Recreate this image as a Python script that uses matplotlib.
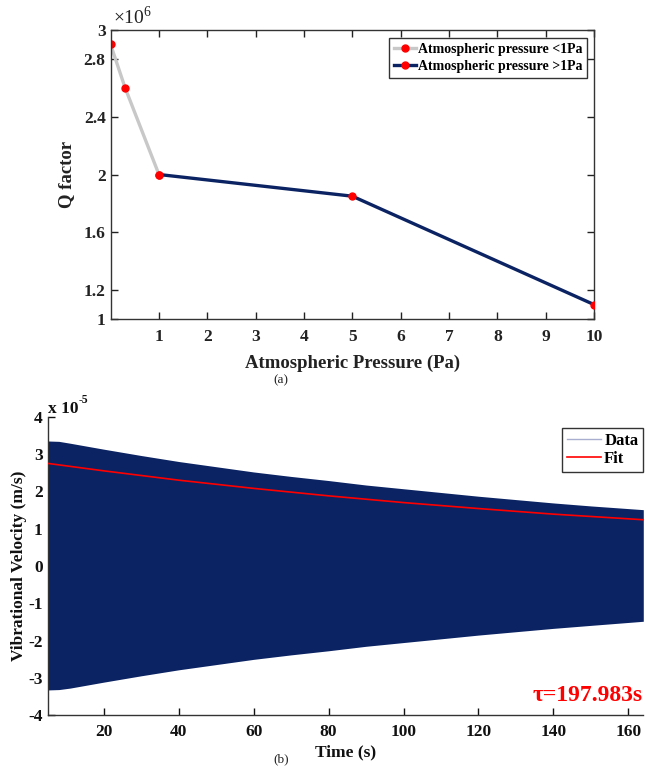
import matplotlib
matplotlib.use("Agg")
import matplotlib.pyplot as plt
from matplotlib.lines import Line2D

plt.rcParams["font.family"] = ["Liberation Serif", "DejaVu Serif"]
plt.rcParams["font.weight"] = "bold"
plt.rcParams["axes.unicode_minus"] = False
plt.rcParams["mathtext.fontset"] = "custom"
plt.rcParams["mathtext.rm"] = "Liberation Serif:normal"
plt.rcParams["mathtext.bf"] = "Liberation Serif:bold"

# ── panel (a): Q factor vs pressure ──────────────────────────────
p_low = [0.0, 0.3, 1.0]          # Pa
q_low = [2.90, 2.60, 2.00]       # x1e6
p_high = [1.0, 5.0, 10.0]
q_high = [2.00, 1.85, 1.10]
a_xticks = [1, 2, 3, 4, 5, 6, 7, 8, 9, 10]
a_yticks = [1, 1.2, 1.6, 2, 2.4, 2.8, 3]
a_yticklabels = ["1", "1.2", "1.6", "2", "2.4", "2.8", "3"]

# ── panel (b): ring-down envelope and fit ────────────────────────
t_env = [5, 8, 11, 20, 30, 40, 50, 60, 70, 80, 90, 100, 110, 120, 130, 140, 150, 164]
v_upper = [3.35, 3.34, 3.29, 3.13, 2.96, 2.80, 2.66, 2.52, 2.40, 2.29, 2.17, 2.07,
           1.97, 1.87, 1.78, 1.69, 1.61, 1.51]
v_lower = [-3.32, -3.31, -3.27, -3.11, -2.94, -2.78, -2.64, -2.50, -2.38, -2.27,
           -2.15, -2.05, -1.95, -1.85, -1.76, -1.67, -1.59, -1.48]
t_fit = [5, 20, 40, 60, 80, 100, 120, 140, 164]
v_fit = [2.75, 2.55, 2.30, 2.08, 1.88, 1.70, 1.54, 1.39, 1.24]
b_xticks = [20, 40, 60, 80, 100, 120, 140, 160]
b_yticks = [-4, -3, -2, -1, 0, 1, 2, 3, 4]
tau_label = "τ=197.983s"

NAVY = "#0b2363"
GRAY = "#c8c8c8"
RED = "#ff0000"

fig = plt.figure(figsize=(6.46, 7.73), dpi=100)

# ---------------- (a) ----------------
ax1 = fig.add_axes([0.1712, 0.5873, 0.7483, 0.3739])
ax1.plot(p_low, q_low, color=GRAY, lw=2.4, marker="o", ms=5,
         mfc=RED, mec=RED, label="Atmospheric pressure <1Pa", zorder=2)
ax1.plot(p_high, q_high, color=NAVY, lw=2.4, marker="o", ms=5,
         mfc=RED, mec=RED, label="Atmospheric pressure >1Pa", zorder=3)
ax1.set_xlim(0, 10)
ax1.set_ylim(1, 3)
ax1.set_xticks(a_xticks)
ax1.set_yticks(a_yticks)
ax1.set_yticklabels(a_yticklabels)
ax1.tick_params(direction="in", top=True, right=True, length=5,
                width=1, labelsize=12.5, colors="#222222")
ax1.tick_params(axis="x", pad=7)
for s in ax1.spines.values():
    s.set_color("#333333")
    s.set_linewidth(1.0)
ax1.set_xlabel("Atmospheric Pressure (Pa)", fontsize=13.5, fontweight="bold",
               color="#222222")
ax1.xaxis.set_label_coords(0.5, -0.125)
ax1.set_ylabel("Q factor", fontsize=13.5, fontweight="bold", color="#222222")
ax1.yaxis.set_label_coords(-0.074, 0.5)
ax1.text(0.004, 1.008, r"$\times10^{6}$", transform=ax1.transAxes,
         fontsize=14, fontweight="normal", ha="left", va="bottom",
         color="#222222")
leg1 = ax1.legend(loc="upper right", bbox_to_anchor=(0.9855, 0.972),
                  prop={"weight": "bold", "size": 10},
                  handlelength=1.6, handletextpad=0.1, borderpad=0.35,
                  labelspacing=0.3, borderaxespad=0, fancybox=False,
                  framealpha=1)
leg1.get_frame().set_edgecolor("#333333")
leg1.get_frame().set_linewidth(1.0)
fig.text(0.435, 0.508, "(a)", fontsize=9.5, fontweight="normal",
         ha="center", va="center", color="#222222")

# ---------------- (b) ----------------
ax2 = fig.add_axes([0.0738, 0.0746, 0.922, 0.3863])
ax2.fill_between(t_env, v_lower, v_upper, color=NAVY, lw=0, zorder=2)
ax2.plot(t_fit, v_fit, color=RED, lw=1.2, zorder=3)
ax2.set_xlim(5, 164)
ax2.set_ylim(-4, 4)
ax2.set_xticks(b_xticks)
ax2.set_yticks(b_yticks)
ax2.tick_params(direction="in", length=5, width=1, labelsize=12.5,
                colors="#111111")
ax2.tick_params(axis="x", pad=6)
ax2.spines["top"].set_visible(False)
ax2.spines["right"].set_visible(False)
for s in ("left", "bottom"):
    ax2.spines[s].set_color("#333333")
    ax2.spines[s].set_linewidth(1.0)
ax2.set_xlabel("Time (s)", fontsize=12.5, fontweight="bold", color="#111111")
ax2.xaxis.set_label_coords(0.5, -0.098)
ax2.set_ylabel("Vibrational Velocity (m/s)", fontsize=12.5, fontweight="bold",
               color="#111111")
ax2.yaxis.set_label_coords(-0.034, 0.5)
ax2.text(0.001, 1.012, "x 10", transform=ax2.transAxes,
         fontsize=12.5, ha="left", va="baseline", color="#111111")
ax2.text(0.0515, 1.046, "-5", transform=ax2.transAxes,
         fontsize=8.5, ha="left", va="baseline", color="#111111")
ax2.text(0.999, 0.03, tau_label, transform=ax2.transAxes, fontsize=17,
         fontweight="bold", color=RED, ha="right", va="bottom", zorder=5)
handles = [Line2D([], [], color="#a8aed0", lw=1.0),
           Line2D([], [], color=RED, lw=1.2)]
leg2 = ax2.legend(handles, ["Data", "Fit"], loc="upper right",
                  bbox_to_anchor=(1.0, 0.962),
                  prop={"weight": "bold", "size": 12},
                  handlelength=2.0, handletextpad=0.2, borderpad=0.3,
                  labelspacing=0.1, borderaxespad=0, fancybox=False,
                  framealpha=1)
leg2.get_frame().set_edgecolor("#333333")
leg2.get_frame().set_linewidth(1.0)
fig.text(0.436, 0.010, "(b)", fontsize=9.5, fontweight="normal",
         ha="center", va="bottom", color="#222222")

fig.savefig("out.png", dpi=100)
plt.close(fig)
